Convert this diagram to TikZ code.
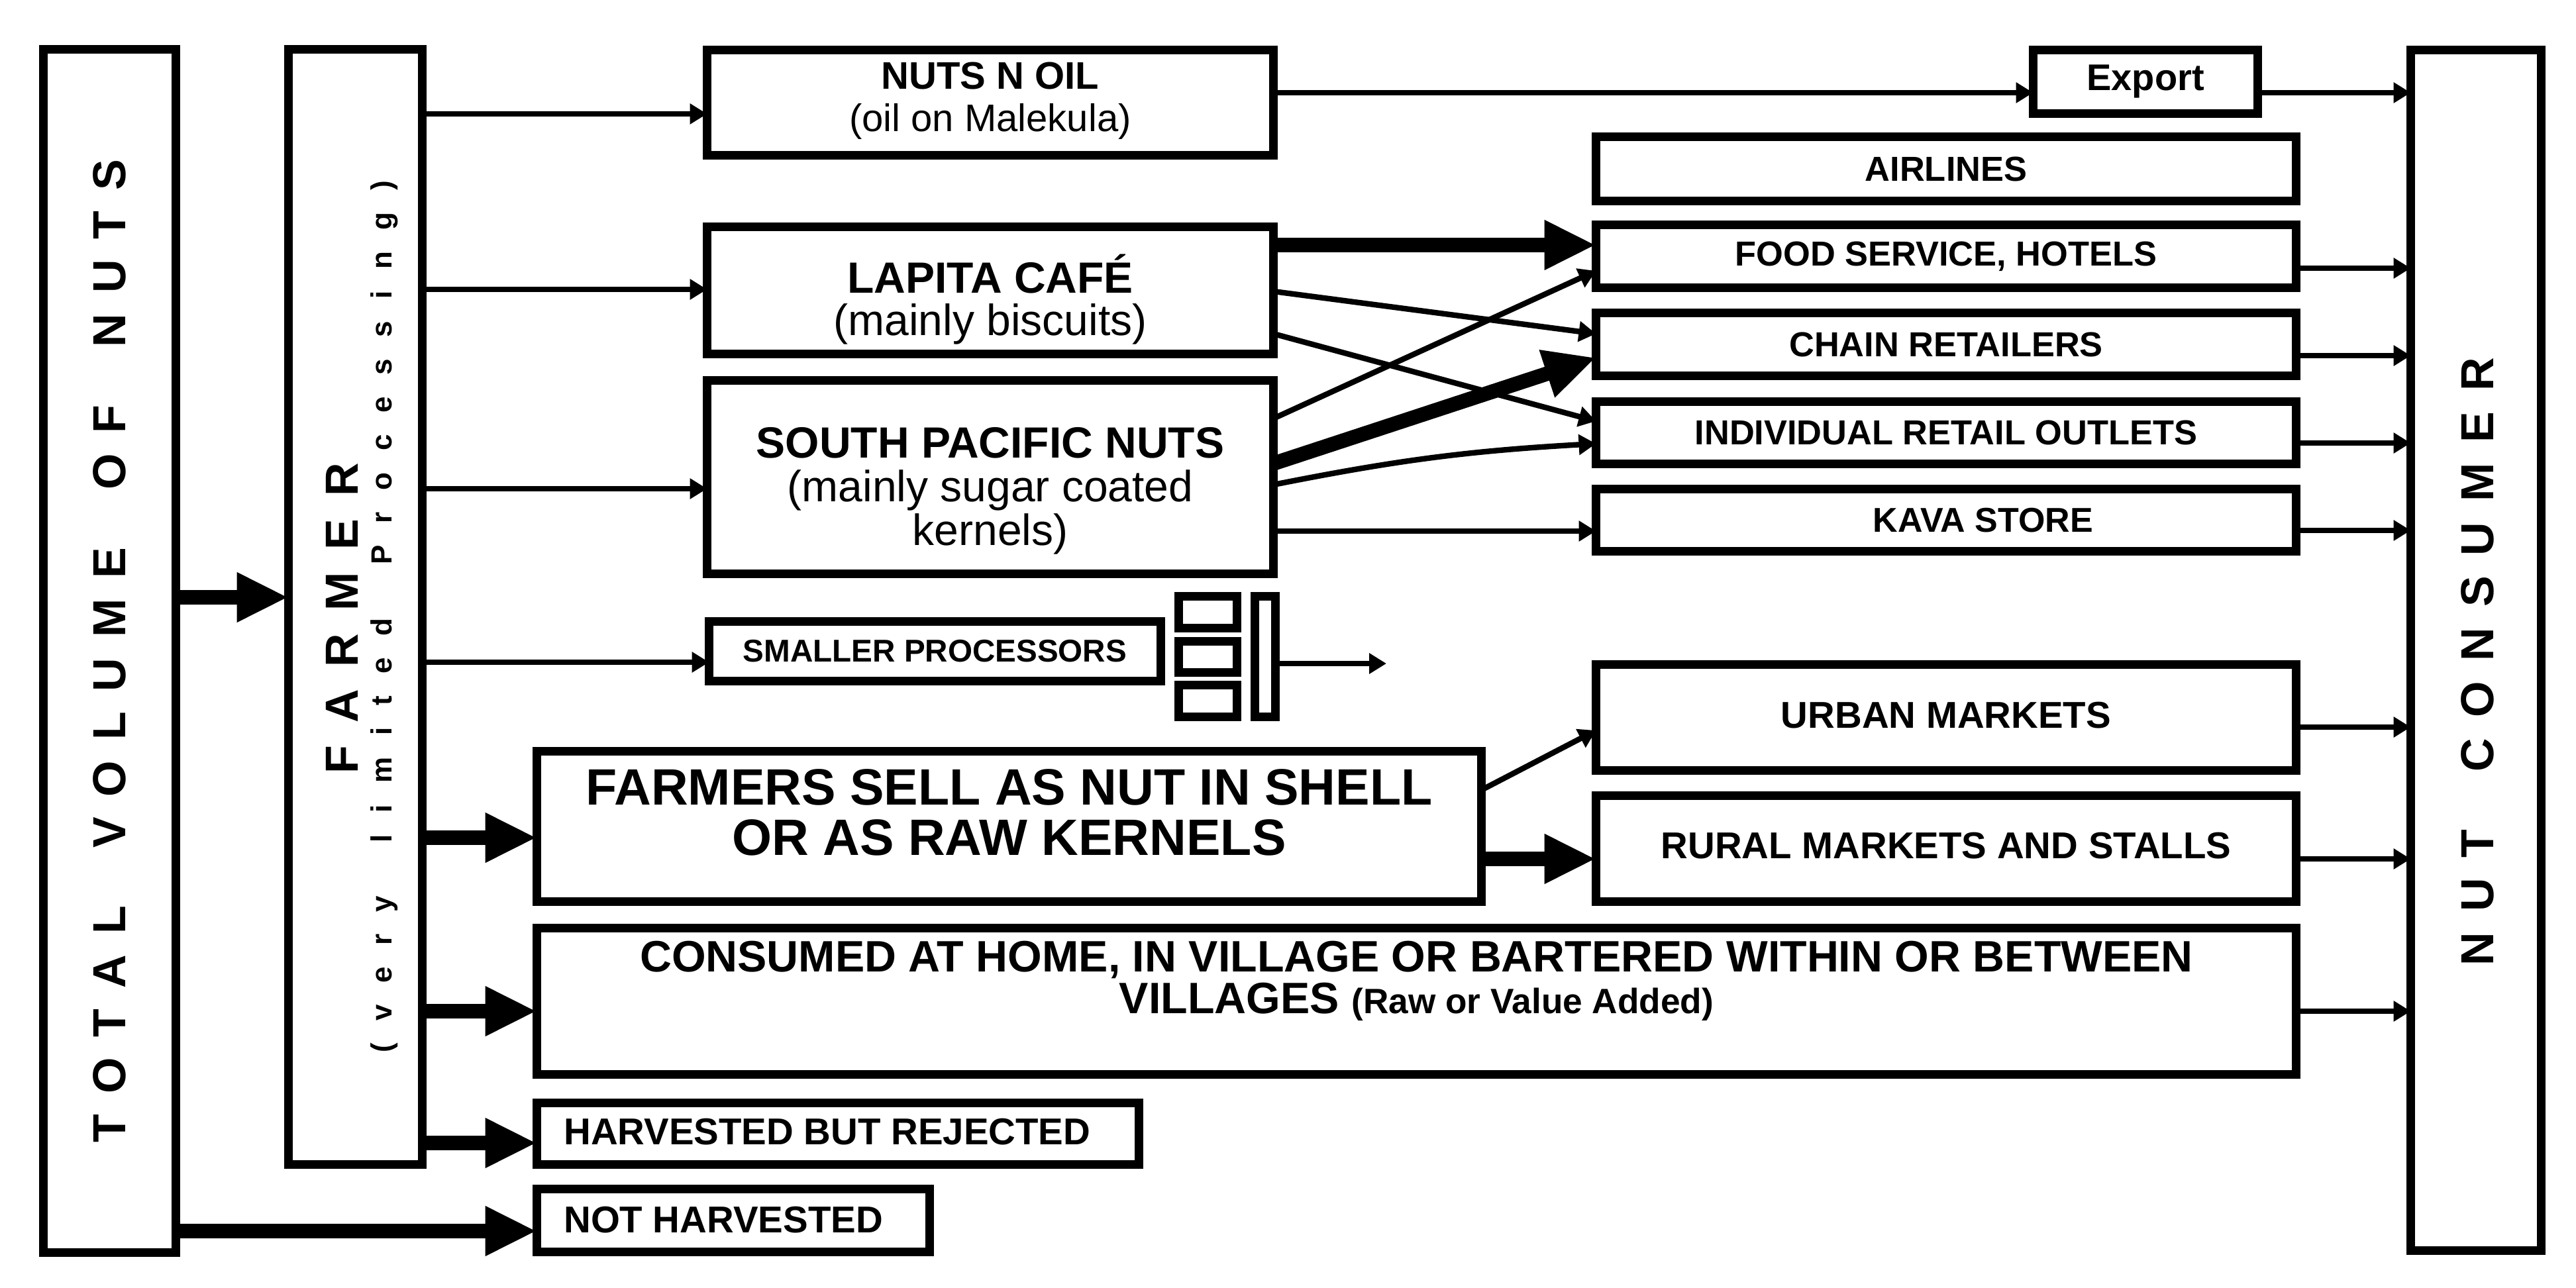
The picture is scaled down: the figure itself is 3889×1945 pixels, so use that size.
\documentclass[tikz,border=0pt]{standalone}
\usepackage{fontspec}
\setmainfont{Liberation Sans}
\usetikzlibrary{arrows.meta,calc}
\makeatletter
\def\lsp#1#2#3{\begingroup\def\ls@gap{#1}\def\ls@wgap{#2}\ls@a#3\relax\endgroup}
\def\ls@a#1{\ifx\relax#1\hspace{-\ls@gap}\else\ifx~#1\hspace{\ls@wgap}\else#1\hspace{\ls@gap}\fi\expandafter\ls@a\fi}
\makeatother
\begin{document}
\begin{tikzpicture}[x=0.25pt,y=-0.25pt,
 box/.style={draw,line width=3.25pt,inner sep=0pt,outer sep=0pt},
 thin/.style={line width=2.1pt,-{Triangle[length=6.5pt,width=7.5pt]}},
 thick/.style={line width=5.5pt,-{Triangle[length=19.5pt,width=17.5pt]}},
 lbl/.style={align=center,inner sep=0pt},
 rbox/.style={box,minimum width=264.25pt},
]
\fill[white] (0,0) rectangle (3889,1945);
\useasboundingbox (0,0) rectangle (3889,1945);

% main boxes
\node[box,minimum width=50pt,minimum height=454.25pt] (total) at (165.5,983) {};
\node[box,minimum width=50.5pt,minimum height=421pt] (farmer) at (536.5,916.5) {};
\node[box,minimum width=49.25pt,minimum height=453.25pt] (consumer) at (3738,982) {};

\node[box,minimum width=213.75pt,minimum height=39.75pt] (nutsoil) at (1495,155) {};
\node[box,minimum width=84.75pt,minimum height=24pt] (export) at (3239,123.5) {};
\node[box,minimum width=213.75pt,minimum height=48pt] (lapita) at (1495,438.5) {};
\node[box,minimum width=213.75pt,minimum height=73pt] (spn) at (1495,720.5) {};
\node[box,minimum width=170.5pt,minimum height=22.5pt] (smaller) at (1411.5,983.5) {};
\node[box,minimum width=22pt,minimum height=12pt] (sqa) at (1823.5,924.5) {};
\node[box,minimum width=22pt,minimum height=11.75pt] (sqb) at (1823.5,992) {};
\node[box,minimum width=22pt,minimum height=12pt] (sqc) at (1823.5,1058.5) {};
\node[box,minimum width=7.75pt,minimum height=45.5pt] (bar) at (1910,991.5) {};

\node[rbox,minimum height=24.25pt] (airlines) at (2938,255) {};
\node[rbox,minimum height=23.75pt] (food) at (2938,387) {};
\node[rbox,minimum height=23.75pt] (chain) at (2938,520) {};
\node[rbox,minimum height=23.5pt] (indiv) at (2938,653.5) {};
\node[rbox,minimum height=23.5pt] (kava) at (2938,785.5) {};
\node[rbox,minimum height=40pt] (urban) at (2938,1083.5) {};
\node[rbox,minimum height=40pt] (rural) at (2938,1281.5) {};

\node[box,minimum width=356.5pt,minimum height=56.75pt] (sell) at (1523.5,1248) {};
\node[box,minimum width=664pt,minimum height=55.25pt] (consumed) at (2138.5,1512) {};
\node[box,minimum width=227.25pt,minimum height=23.25pt] (harvested) at (1265,1712) {};
\node[box,minimum width=148.25pt,minimum height=23.75pt] (notharv) at (1107,1843) {};

% texts
\node[lbl,rotate=90,font=\fontsize{17.5}{20}\selectfont\bfseries] (totalt) at (total.center) {\lsp{7.75pt}{14pt}{TOTAL~VOLUME~OF~NUTS}};
\node[lbl,rotate=90,font=\fontsize{17.5}{20}\selectfont\bfseries] (farmert) at (516,934) {\lsp{8.5pt}{14pt}{FARMER}};
\node[lbl,rotate=90,font=\fontsize{11}{13}\selectfont\bfseries] (farmers) at (580,931) {\lsp{8.2pt}{12pt}{(very~limited~Processing)}};
\node[lbl,rotate=90,font=\fontsize{17.5}{20}\selectfont\bfseries] (consumert) at (3740,999) {\lsp{7.75pt}{14pt}{NUT~CONSUMER}};

\node[lbl,font=\fontsize{14.5}{16}\selectfont] at ($(nutsoil.center)+(0,-3)$) {{\bfseries NUTS N OIL}\\(oil on Malekula)};
\node[lbl,font=\fontsize{14}{16}\selectfont\bfseries] at (export.center) {Export};
\node[lbl,font=\fontsize{16.5}{16}\selectfont] at ($(lapita.center)+(0,14)$) {{\bfseries LAPITA CAFÉ}\\(mainly biscuits)};
\node[lbl,font=\fontsize{16.5}{16.5}\selectfont] at ($(spn.center)+(0,21)$) {{\bfseries SOUTH PACIFIC NUTS}\\(mainly sugar coated\\kernels)};
\node[lbl,font=\fontsize{11.9}{14}\selectfont\bfseries] at (smaller.center) {SMALLER PROCESSORS};

\node[lbl,font=\fontsize{13.1}{15}\selectfont\bfseries] at (airlines.center) {AIRLINES};
\node[lbl,font=\fontsize{13.1}{15}\selectfont\bfseries] at (food.center) {FOOD SERVICE, HOTELS};
\node[lbl,font=\fontsize{13.1}{15}\selectfont\bfseries] at (chain.center) {CHAIN RETAILERS};
\node[lbl,font=\fontsize{13.1}{15}\selectfont\bfseries] at (indiv.center) {INDIVIDUAL RETAIL OUTLETS};
\node[lbl,font=\fontsize{13}{15}\selectfont\bfseries] at ($(kava.center)+(56,0)$) {KAVA STORE};
\node[lbl,font=\fontsize{14.1}{16}\selectfont\bfseries] at ($(urban.center)+(0,-3)$) {URBAN MARKETS};
\node[lbl,font=\fontsize{14.1}{16}\selectfont\bfseries] at ($(rural.center)+(0,-4)$) {RURAL MARKETS AND STALLS};

\node[lbl,font=\fontsize{19.3}{19}\selectfont\bfseries] at ($(sell.center)+(0,-21)$) {FARMERS SELL AS NUT IN SHELL\\OR AS RAW KERNELS};
\node[lbl,font=\fontsize{16.6}{15.75}\selectfont\bfseries] at ($(consumed.center)+(0,-31)$) {CONSUMED AT HOME, IN VILLAGE OR BARTERED WITHIN OR BETWEEN\\VILLAGES {\fontsize{13.3}{15}\selectfont(Raw or Value Added)}};
\node[lbl,anchor=west,font=\fontsize{14.1}{16}\selectfont\bfseries] at ($(harvested.west)+(40,-3)$) {HARVESTED BUT REJECTED};
\node[lbl,anchor=west,font=\fontsize{14.1}{16}\selectfont\bfseries] at ($(notharv.west)+(40,-1)$) {NOT HARVESTED};

% thin connectors
\draw[thin] (farmer.east |- 0,172) -- (nutsoil.west |- 0,172);
\draw[thin] (farmer.east |- 0,437) -- (lapita.west |- 0,437);
\draw[thin] (farmer.east |- 0,738) -- (spn.west |- 0,738);
\draw[thin] (farmer.east |- 0,1000) -- (smaller.west |- 0,1000);
\draw[thin] (nutsoil.east |- 0,140) -- (export.west |- 0,140);
\draw[thin] (export.east |- 0,140) -- (consumer.west |- 0,140);
\draw[thin] (food.east |- 0,405) -- (consumer.west |- 0,405);
\draw[thin] (chain.east |- 0,537) -- (consumer.west |- 0,537);
\draw[thin] (indiv.east |- 0,669) -- (consumer.west |- 0,669);
\draw[thin] (kava.east |- 0,801) -- (consumer.west |- 0,801);
\draw[thin] (urban.east |- 0,1098) -- (consumer.west |- 0,1098);
\draw[thin] (rural.east |- 0,1297) -- (consumer.west |- 0,1297);
\draw[thin] (consumed.east |- 0,1527) -- (consumer.west |- 0,1527);
\draw[thin] (lapita.east |- 0,440) -- (chain.west |- 0,504);
\draw[thin] (lapita.east |- 0,504) -- (indiv.west |- 0,636);
\draw[thin] (spn.east |- 0,632) -- (food.west |- 0,409);
\draw[thin] (spn.east |- 0,732) to[bend left=4] (indiv.west |- 0,670);
\draw[thin] (spn.east |- 0,802) -- (kava.west |- 0,802);
\coordinate (spout) at (2093,1002);
\draw[thin] (bar.east |- 0,1002) -- (spout);
\draw[thin] (sell.east |- 0,1193) -- (urban.west |- 0,1103);

% thick connectors
\draw[thick] (total.east |- 0,902) -- (farmer.west |- 0,902);
\draw[thick] (farmer.east |- 0,1265) -- (sell.west |- 0,1265);
\draw[thick] (farmer.east |- 0,1527) -- (consumed.west |- 0,1527);
\draw[thick] (farmer.east |- 0,1726) -- (harvested.west |- 0,1726);
\draw[thick] (total.east |- 0,1859) -- (notharv.west |- 0,1859);
\draw[thick] (lapita.east |- 0,370) -- (food.west |- 0,370);
\draw[thick] (spn.east |- 0,700) -- (chain.west |- 0,540);
\draw[thick] (sell.east |- 0,1297) -- (rural.west |- 0,1297);
\end{tikzpicture}
\end{document}
